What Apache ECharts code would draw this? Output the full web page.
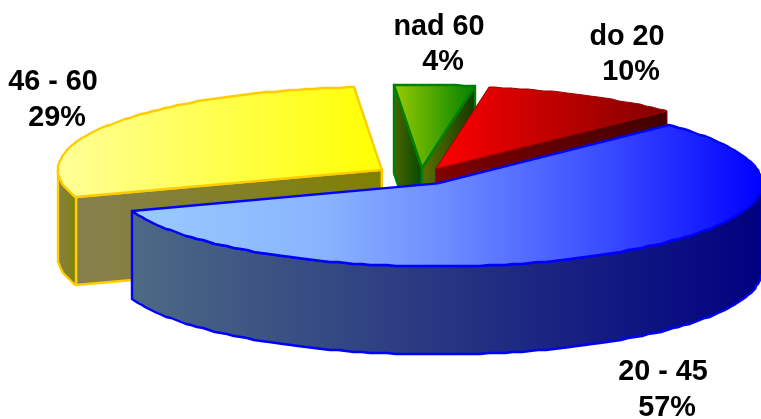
<!DOCTYPE html>
<html>
<head>
<meta charset="utf-8">
<title>Pie</title>
<style>
html, body { margin: 0; padding: 0; background: #fff; }
#main { width: 761px; height: 419px; }
</style>
<script src="https://cdn.jsdelivr.net/npm/echarts@6/dist/echarts.min.js"></script>
</head>
<body>
<div id="main"></div>
<script>
// data, clockwise from the first slice
var categories = ['do 20', '20 - 45', '46 - 60', 'nad 60'];
var shares = [10, 57, 29, 4];
var explode = [0.1, 0.1, 0.143, 0.1];

// painter's order: index into categories
var drawOrder = [2, 3, 0, 1];

// pie geometry
var cx = 420.7, cy = 176.3, rx = 324, ry = 83, depth = 88;
var startAngle = 80.5;
var step = 1.5;

// colours per slice
var strokes = ['#a00000', '#0000ff', '#ffcc00', '#008000'];
var lineWidths = [1, 2.4, 2.4, 2.4];
var topStops = [
    [[0, '#ff0000'], [1, '#800000']],
    [[0, '#99ccff'], [0.3, '#8ab4ff'], [0.5, '#6c8cff'], [0.75, '#3a4cff'], [1, '#0000ff']],
    [[0, '#ffff99'], [1, '#ffff00']],
    [[0, '#99cc00'], [1, '#008000']]
];
var wallStops = [
    [[0, '#800000'], [1, '#400000']],
    [[0, '#4d6a84'], [1, '#000080']],
    [[0, '#86804f'], [1, '#808000']],
    [[0, '#4f6400'], [1, '#004800']]
];
var rightWallStops = [[0, '#5f7000'], [1, '#0f3a00']];

// labels
var labelCentres = [[631, 54.5], [667, 390], [57, 100], [443, 44.5]];

var rad = Math.PI / 180;

function angleRange(i) {
    var a = startAngle;
    for (var k = 0; k < i; k++) {
        a -= shares[k] * 3.6;
    }
    return [a, a - shares[i] * 3.6];
}

function hgrad(stops) {
    return new echarts.graphic.LinearGradient(0, 0, 1, 0, stops.map(function (s) {
        return { offset: s[0], color: s[1] };
    }));
}

function poly(points, fill, i) {
    return {
        type: 'polygon',
        shape: { points: points },
        style: { fill: fill, stroke: strokes[i], lineWidth: lineWidths[i], lineJoin: 'round' }
    };
}

function renderSlice(params, api) {
    var i = api.value(0);
    var r = angleRange(i);
    var mid = (r[0] + r[1]) / 2 * rad;
    var ox = cx + explode[i] * rx * Math.cos(mid);
    var oy = cy - explode[i] * ry * Math.sin(mid);

    function rim(a) {
        return [Math.round(ox + rx * Math.cos(a * rad)), Math.round(oy - ry * Math.sin(a * rad))];
    }
    function down(p) {
        return [p[0], p[1] + depth];
    }

    var angles = [r[0]];
    var a = Math.floor(r[0] / step) * step;
    if (a === r[0]) a -= step;
    for (; a > r[1]; a -= step) angles.push(a);
    angles.push(r[1]);

    var apex = [ox, oy];
    var children = [];

    // cut faces, only the ones turned to the viewer
    if (Math.cos(r[0] * rad) < 0) {
        var s = rim(r[0]);
        children.push(poly([apex, s, down(s), down(apex)], hgrad(wallStops[i]), i));
    }
    if (Math.cos(r[1] * rad) > 0) {
        var e = rim(r[1]);
        children.push(poly([apex, e, down(e), down(apex)], hgrad(i === 3 ? rightWallStops : wallStops[i]), i));
    }

    // outer wall, front half only
    var front = angles.filter(function (t) {
        return Math.sin(t * rad) <= 1e-9;
    }).map(rim);
    if (front.length > 1) {
        children.push(poly(front.concat(front.slice().reverse().map(down)), hgrad(wallStops[i]), i));
    }

    // top
    children.push(poly([apex].concat(angles.map(rim)), hgrad(topStops[i]), i));

    return { type: 'group', children: children };
}

function renderLabel(params, api) {
    var i = api.value(0);
    return {
        type: 'text',
        z2: 100,
        style: {
            // trailing space keeps the first line a bit left of the second, as in the original
            text: categories[i] + ' \n' + shares[i] + '%',
            x: labelCentres[i][0],
            y: labelCentres[i][1],
            textAlign: 'center',
            textVerticalAlign: 'middle',
            font: 'bold 28.8px "Liberation Sans", Arial, sans-serif',
            lineHeight: 35.5,
            fill: '#000'
        }
    };
}

var chartDom = document.getElementById('main');
var myChart = echarts.init(chartDom);
var option = {
    backgroundColor: '#fff',
    animation: false,
    series: [{
        type: 'custom',
        coordinateSystem: 'none',
        renderItem: renderSlice,
        data: drawOrder.map(function (i) { return [i]; }),
        silent: true
    }, {
        type: 'custom',
        coordinateSystem: 'none',
        renderItem: renderLabel,
        data: categories.map(function (c, i) { return [i]; }),
        silent: true
    }]
};
myChart.setOption(option);
</script>
</body>
</html>
